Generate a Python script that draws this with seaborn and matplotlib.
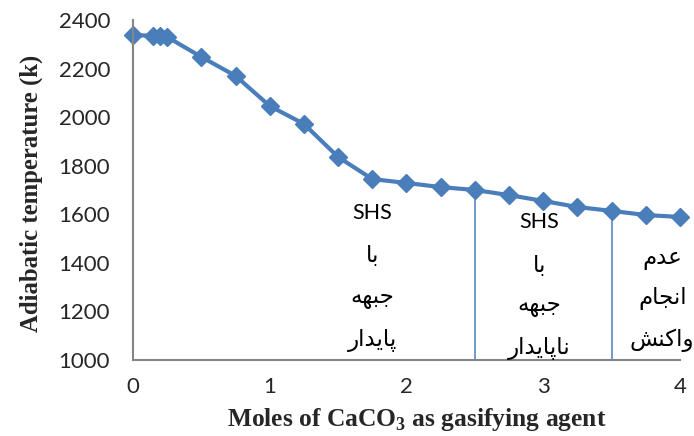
import matplotlib
matplotlib.use("Agg")
import matplotlib.pyplot as plt
import seaborn as sns
import pandas as pd

# CaCO3 moles vs adiabatic temperature
moles = [0, 0.15, 0.2, 0.25, 0.5, 0.75, 1.0, 1.25, 1.5, 1.75, 2.0, 2.25, 2.5,
         2.75, 3.0, 3.25, 3.5, 3.75, 4.0]
temperature = [2338, 2335, 2333, 2330, 2248, 2170, 2046, 1972, 1836, 1745,
               1729, 1712, 1700, 1679, 1655, 1630, 1614, 1597, 1589]

# regime boundaries (moles of CaCO3)
boundaries = [2.5, 3.5]

# regime annotations: x position, y positions of each line, text lines
region_x = [1.75, 2.97, 3.87]
region_y = [[1605, 1432, 1259, 1082],
            [1568, 1391, 1226, 1049],
            [1420, 1255, 1082]]
region_text = [["SHS", "با", "جبهه", "پایدار"],
               ["SHS", "با", "جبهه", "ناپایدار"],
               ["عدم", "انجام", "واکنش"]]

x_ticks = [0, 1, 2, 3, 4]
y_ticks = [1000, 1200, 1400, 1600, 1800, 2000, 2200, 2400]

# --- minimal Arabic-script shaping (presentation forms + visual order) ---
FORMS = {  # char: (isolated, final, initial, medial); None => right-joining only
    "\u0627": ("\uFE8D", "\uFE8E", None, None),
    "\u0628": ("\uFE8F", "\uFE90", "\uFE91", "\uFE92"),
    "\u062C": ("\uFE9D", "\uFE9E", "\uFE9F", "\uFEA0"),
    "\u062F": ("\uFEA9", "\uFEAA", None, None),
    "\u0631": ("\uFEAD", "\uFEAE", None, None),
    "\u0634": ("\uFEB5", "\uFEB6", "\uFEB7", "\uFEB8"),
    "\u0639": ("\uFEC9", "\uFECA", "\uFECB", "\uFECC"),
    "\u0645": ("\uFEE1", "\uFEE2", "\uFEE3", "\uFEE4"),
    "\u0646": ("\uFEE5", "\uFEE6", "\uFEE7", "\uFEE8"),
    "\u0647": ("\uFEE9", "\uFEEA", "\uFEEB", "\uFEEC"),
    "\u0648": ("\uFEED", "\uFEEE", None, None),
    "\u067E": ("\uFB56", "\uFB57", "\uFB58", "\uFB59"),
    "\u06A9": ("\uFB8E", "\uFB8F", "\uFB90", "\uFB91"),
    "\u06CC": ("\uFBFC", "\uFBFD", "\uFBFE", "\uFBFF"),
}


def shape(s):
    if not any(c in FORMS for c in s):
        return s
    out = []
    for i, c in enumerate(s):
        f = FORMS.get(c)
        if f is None:
            out.append(c)
            continue
        prev = s[i - 1] if i > 0 else None
        nxt = s[i + 1] if i + 1 < len(s) else None
        jp = prev in FORMS and FORMS[prev][2] is not None
        jn = f[2] is not None and nxt in FORMS
        if jp and jn:
            out.append(f[3])
        elif jp:
            out.append(f[1])
        elif jn:
            out.append(f[2])
        else:
            out.append(f[0])
    return "".join(reversed(out))


sns.set_style("white")
plt.rcParams["mathtext.fontset"] = "custom"
plt.rcParams["mathtext.rm"] = "Liberation Serif"
plt.rcParams["mathtext.bf"] = "Liberation Serif:bold"

blue = "#4A7EBB"
fig = plt.figure(figsize=(6.94, 4.36), dpi=100)
ax = fig.add_axes([0.1916, 0.1743, 0.7882, 0.7798])

df = pd.DataFrame({"moles": moles, "T": temperature})
sns.lineplot(data=df, x="moles", y="T", ax=ax, color=blue, linewidth=3,
             marker="D", markersize=8.8, markeredgecolor=blue,
             markeredgewidth=1, clip_on=False)

for b in boundaries:
    ax.plot([b, b], [1000, temperature[moles.index(b)]], color=blue,
            linewidth=1.1, zorder=1)

tick_font = "Lato"
for x, ys, lines in zip(region_x, region_y, region_text):
    for y, t in zip(ys, lines):
        if t == "SHS":
            ax.text(x, y, t, ha="center", va="center", fontsize=15.5,
                    family=tick_font, color="black", clip_on=False)
        else:
            ax.text(x, y, shape(t), ha="center", va="center", fontsize=16.5,
                    family="DejaVu Sans", color="black", clip_on=False)

ax.set_xlim(0, 4)
ax.set_ylim(1000, 2400)
ax.set_xticks(x_ticks)
ax.set_yticks(y_ticks)
ax.set_xticklabels([str(v) for v in x_ticks], family=tick_font, fontsize=16)
ax.set_yticklabels([str(v) for v in y_ticks], family=tick_font, fontsize=16)
ax.tick_params(axis="x", length=0, pad=12)
ax.tick_params(axis="y", length=0, pad=16.5)

for side in ["top", "right"]:
    ax.spines[side].set_visible(False)
for side in ["left", "bottom"]:
    ax.spines[side].set_color("#868686")
    ax.spines[side].set_linewidth(1.5)

ax.set_xlabel(r"Moles of CaCO$_\mathbf{3}$ as gasifying agent",
              family="Liberation Serif", fontweight="bold", fontsize=18.4,
              labelpad=7, x=0.519)
ax.set_ylabel("Adiabatic temperature (k)", family="Liberation Serif",
              fontweight="bold", fontsize=17.8, labelpad=11, y=0.491)

fig.savefig("out.png", dpi=100)
